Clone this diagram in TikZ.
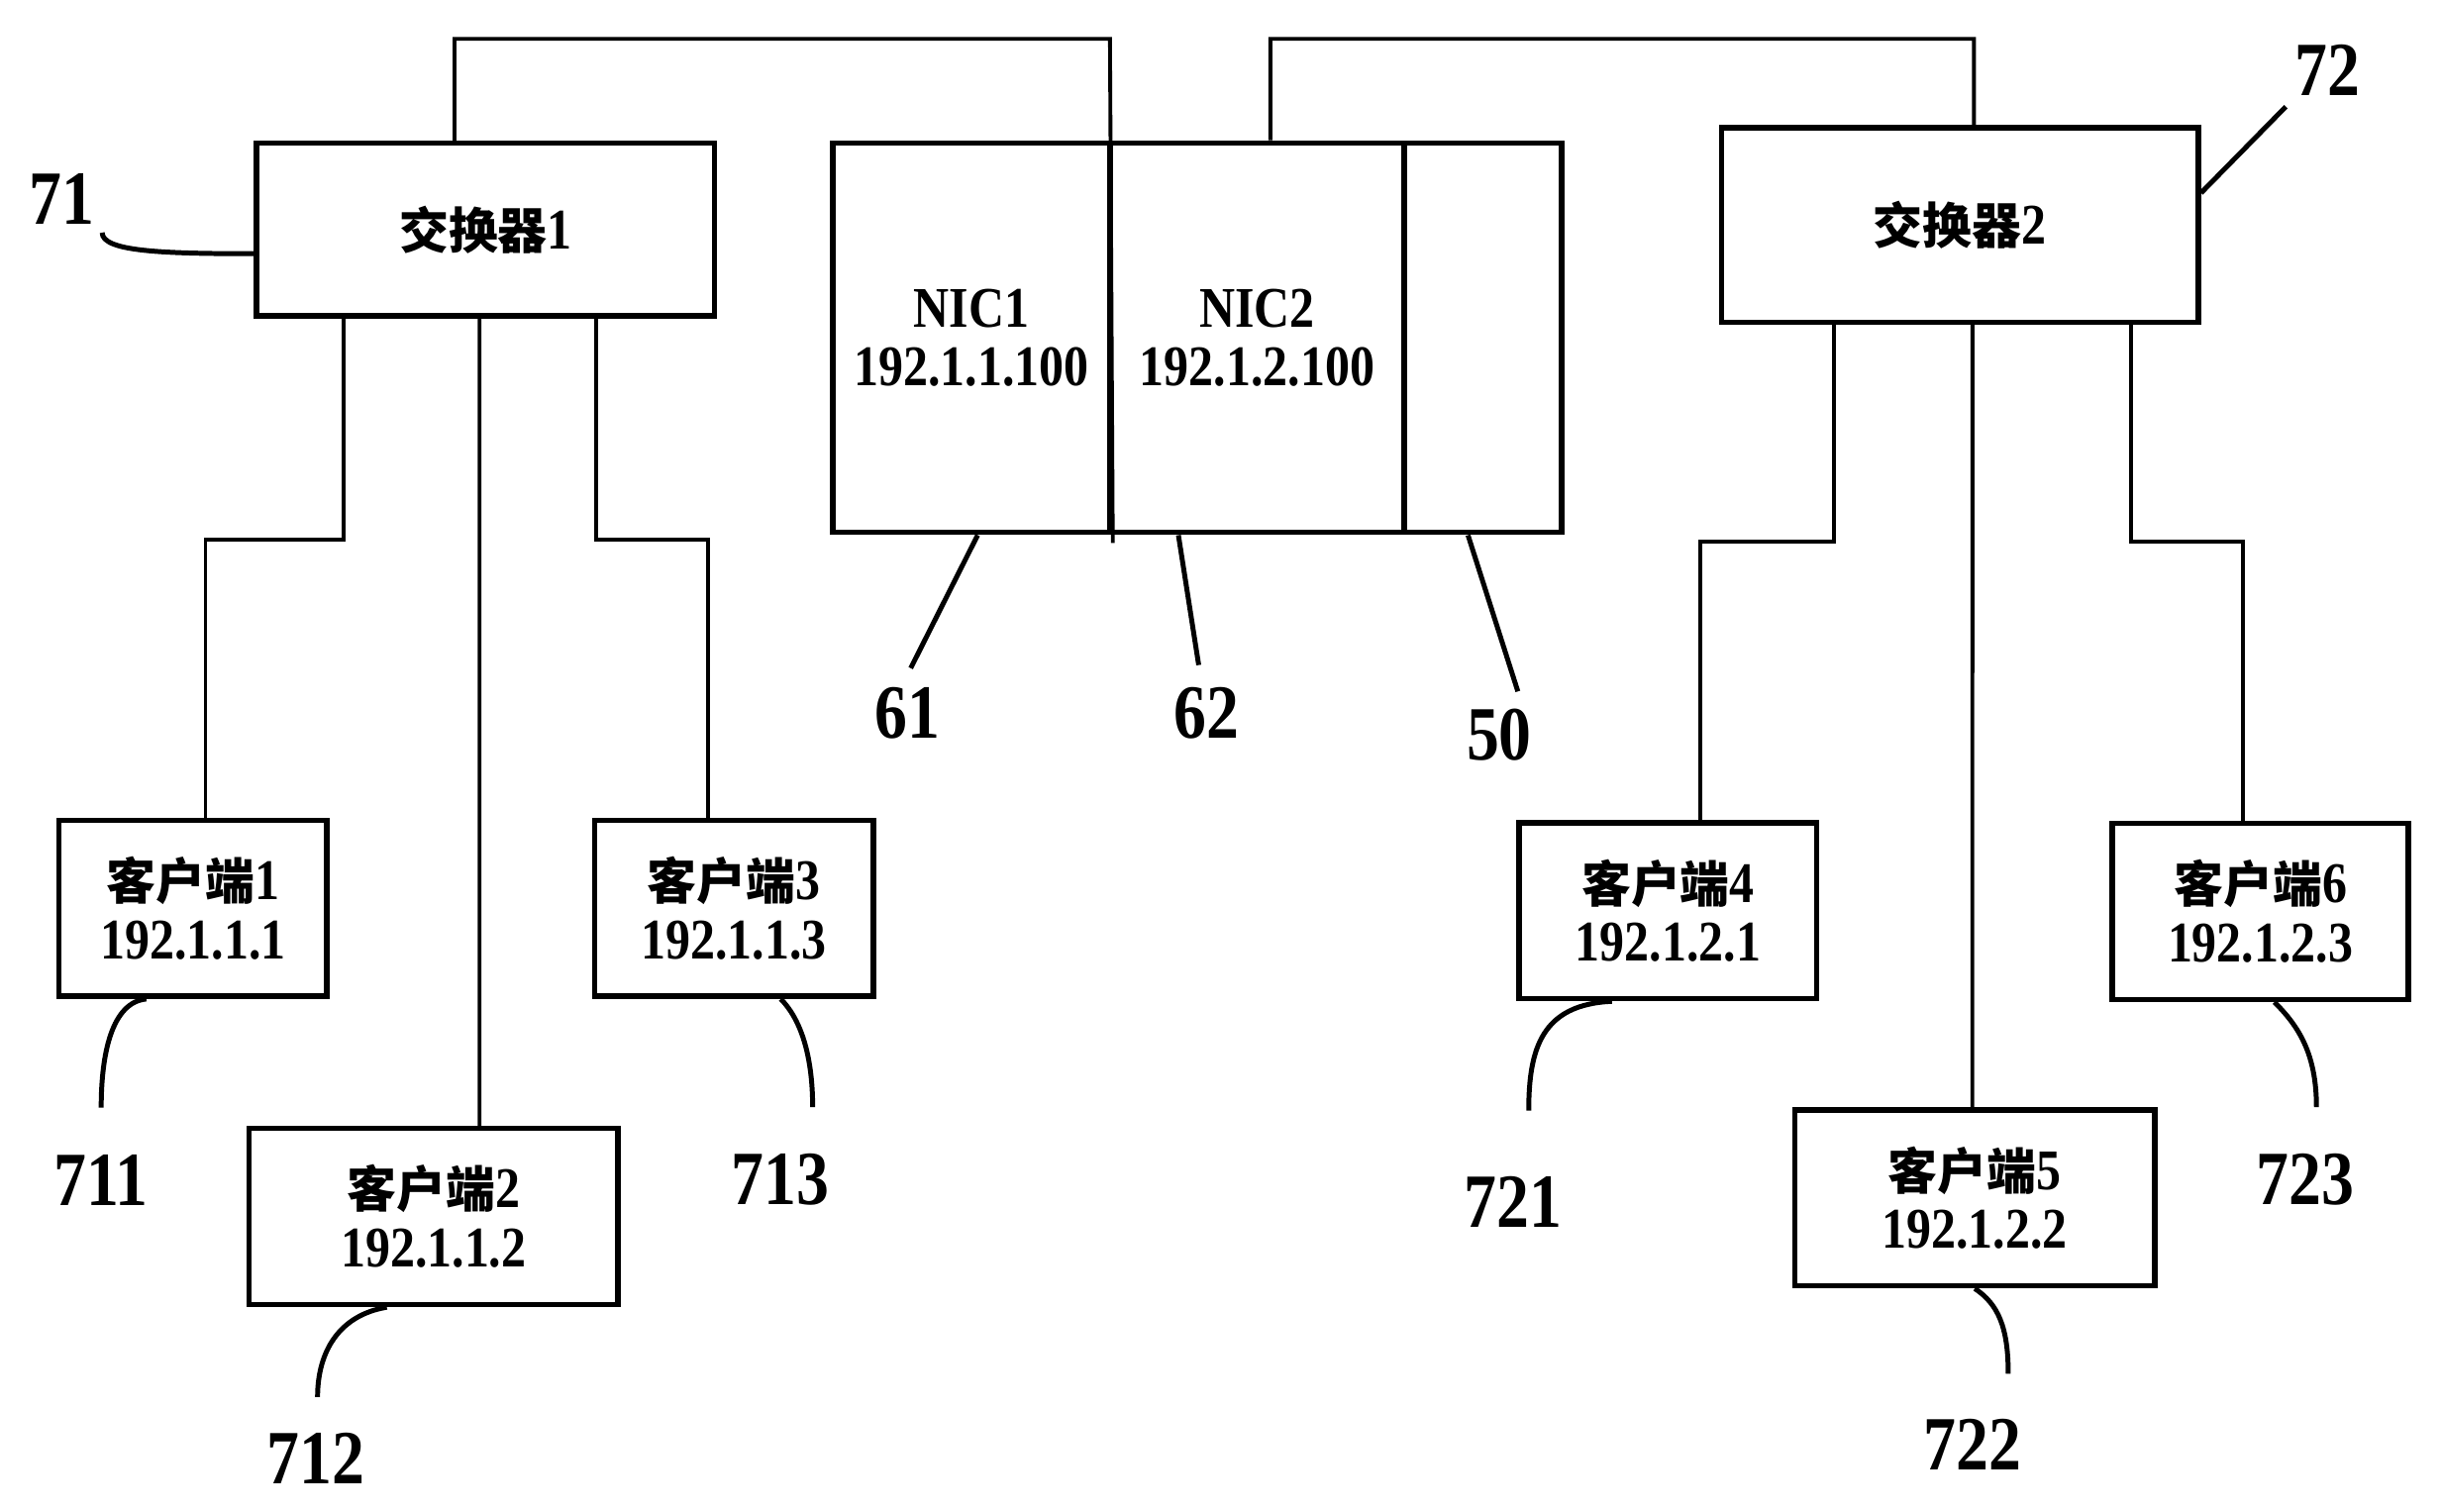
\documentclass[tikz,border=0pt]{standalone}
\usepackage{fontspec}
\setmainfont{Liberation Serif}
\newfontfamily\boxfont[FakeStretch=0.86]{Liberation Serif}
\newfontfamily\labfont[FakeStretch=0.85]{Liberation Serif}
\newfontfamily\cjk[Scale=0.86]{Noto Sans CJK SC}
\usetikzlibrary{positioning}

\begin{document}
\begin{tikzpicture}[
x=0.01cm, y=-0.01cm,
unit/.style={draw, rectangle, line width=1pt, inner sep=0pt,
align=center, font=\boxfont\bfseries\fontsize{10.5}{10.8}\selectfont},
client/.style={unit, minimum height=1.13cm},
wire/.style={line width=0.7pt},
lead/.style={line width=0.9pt},
num/.style={inner sep=0pt, font=\labfont\bfseries\fontsize{14}{14}\selectfont}
]
\useasboundingbox (0,0) rectangle (1568,971);

% switches
\node[unit, minimum width=2.94cm, minimum height=1.11cm] (sw1) at (312,147.5) {{\cjk 交换器}1};
\node[unit, minimum width=3.06cm, minimum height=1.25cm] (sw2) at (1259,144.5) {{\cjk 交换器}2};

% server with two cards
\node[unit, minimum width=1.78cm, minimum height=2.50cm] (nic1) at (624,217) {NIC1\\192.1.1.100};
\node[unit, minimum width=1.89cm, minimum height=2.50cm] (nic2) at (807.5,217) {NIC2\\192.1.2.100};
\node[unit, minimum width=1.01cm, minimum height=2.50cm] (host) at (952.5,217) {};

% clients
\node[client, minimum width=1.72cm] (c1) at (124,583.5) {{\cjk 客户端}1\\192.1.1.1};
\node[client, minimum width=2.37cm] (c2) at (278.5,781.5) {{\cjk 客户端}2\\192.1.1.2};
\node[client, minimum width=1.79cm] (c3) at (471.5,583.5) {{\cjk 客户端}3\\192.1.1.3};
\node[client, minimum width=1.91cm] (c4) at (1071.5,585) {{\cjk 客户端}4\\192.1.2.1};
\node[client, minimum width=2.31cm] (c5) at (1268.5,769.5) {{\cjk 客户端}5\\192.1.2.2};
\node[client, minimum width=1.90cm] (c6) at (1452,585.5) {{\cjk 客户端}6\\192.1.2.3};

% reference numbers
\node[num] (l71) at (40,128) {71};
\node[num] (l72) at (1495,45) {72};
\node[num] (l61) at (583,458) {61};
\node[num] (l62) at (775,458) {62};
\node[num] (l50) at (963,472) {50};
\node[num] (l711) at (65,758) {711};
\node[num] (l712) at (203,937) {712};
\node[num] (l713) at (501,758) {713};
\node[num] (l721) at (972,772) {721};
\node[num] (l722) at (1267,928) {722};
\node[num] (l723) at (1481,758) {723};

% links to the server
\draw[wire] ([xshift=-0.2cm]sw1.north) |- (713,25) -- ([yshift=-0.05cm]nic1.south east);
\draw[wire] ([xshift=0.085cm]nic2.north) |- (1268,25) -- ([xshift=0.09cm]sw2.north);

% links to the clients
\draw[wire] ([xshift=-0.91cm]sw1.south) -- ++(0,142) -| ([xshift=0.08cm]c1.north);
\draw[wire] ([xshift=-0.04cm]sw1.south) -- ([xshift=0.295cm]c2.north);
\draw[wire] ([xshift=0.71cm]sw1.south) -- ++(0,142) -| ([xshift=-0.165cm]c3.north);
\draw[wire] ([xshift=-0.81cm]sw2.south) -- ++(0,139) -| ([xshift=0.205cm]c4.north);
\draw[wire] ([xshift=0.08cm]sw2.south) -- ([xshift=-0.015cm]c5.north);
\draw[wire] ([xshift=1.10cm]sw2.south) -- ++(0,139) -| ([xshift=-0.11cm]c6.north);

% leaders
\draw[lead] ([xshift=0.04cm, yshift=-0.045cm]l71.south east) .. controls +(0,12) and +(-60,0) .. ([yshift=-0.155cm]sw1.west);
\draw[lead] ([xshift=-0.05cm, yshift=-0.065cm]l72.south west) -- ([yshift=0.205cm]sw2.east);
\draw[lead] ([xshift=0.04cm]nic1.south) -- ([xshift=0.02cm, yshift=0.115cm]l61.north);
\draw[lead] ([xshift=-0.505cm]nic2.south) -- ([xshift=-0.05cm, yshift=0.135cm]l62.north);
\draw[lead] ([xshift=-0.095cm]host.south) -- ([xshift=0.12cm, yshift=0.105cm]l50.north);
\draw[lead] ([xshift=-0.30cm]c1.south) .. controls +(-22,2) and +(0,-35) .. ([yshift=0.295cm]l711.north);
\draw[lead] ([xshift=-0.30cm]c2.south) .. controls +(-30,5) and +(0,-30) .. ([xshift=0.01cm, yshift=0.225cm]l712.north);
\draw[lead] ([xshift=0.30cm]c3.south) .. controls +(12,12) and +(0,-35) .. ([xshift=0.21cm, yshift=0.295cm]l713.north);
\draw[lead] ([xshift=-0.36cm]c4.south) .. controls +(-45,2) and +(0,-40) .. ([xshift=0.10cm, yshift=0.415cm]l721.north);
\draw[lead] (c5.south) .. controls +(15,10) and +(0,-30) .. ([xshift=0.23cm, yshift=0.285cm]l722.north);
\draw[lead] ([xshift=0.09cm]c6.south) .. controls +(15,15) and +(0,-35) .. ([xshift=0.07cm, yshift=0.295cm]l723.north);

\end{tikzpicture}
\end{document}
